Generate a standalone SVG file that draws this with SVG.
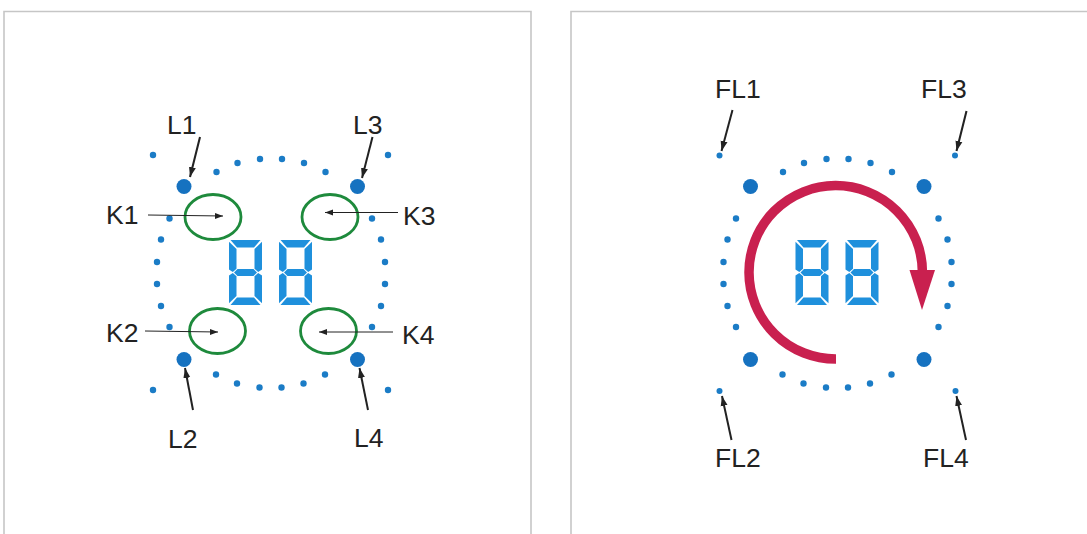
<svg xmlns="http://www.w3.org/2000/svg" xmlns:xlink="http://www.w3.org/1999/xlink" width="1087" height="534" viewBox="0 0 1087 534">
<style>
.frame{fill:none;stroke:#c6c6c6;stroke-width:1.6}
.dot{fill:#1b7cc6}
.big{fill:#1672c0}
.seg{fill:#1f90dc}
.ring{fill:none;stroke:#1e8a3c;stroke-width:2.8}
.lbl{font-family:"Liberation Sans",Arial,sans-serif;font-size:26.5px;fill:#222}
.ptr{stroke:#222;stroke-width:2;fill:none}
.thin{stroke:#222;stroke-width:1;fill:none}
.rot{fill:none;stroke:#c9204f;stroke-width:9.5}
</style>
<defs>
<marker id="ah" markerUnits="userSpaceOnUse" markerWidth="11" markerHeight="8" refX="10" refY="4" orient="auto">
<path d="M0,0.5 L10,4 L0,7.5 z" fill="#222"/>
</marker>
<marker id="sh" markerUnits="userSpaceOnUse" markerWidth="9" markerHeight="7" refX="8" refY="3.5" orient="auto">
<path d="M0,0.5 L8,3.5 L0,6.5 z" fill="#222"/>
</marker>
<g id="digit">
<polygon class="seg" points="1.5,0 31.5,0 25,7.5 8,7.5"/>
<polygon class="seg" points="0,1.8 7.5,9 7.5,28.8 3.8,32 0,29.5"/>
<polygon class="seg" points="33,1.8 25.5,9 25.5,28.8 29.2,32 33,29.5"/>
<polygon class="seg" points="5,32.5 8.5,29 24.5,29 28,32.5 24.5,36 8.5,36"/>
<polygon class="seg" points="0,35.5 3.8,33 7.5,36.3 7.5,56 0,63.2"/>
<polygon class="seg" points="33,35.5 29.2,33 25.5,36.3 25.5,56 33,63.2"/>
<polygon class="seg" points="1.5,65 8,57.5 25,57.5 31.5,65"/>
</g>
<g id="dotring">
<circle class="dot" cx="216.5" cy="172" r="3.2"/>
<circle class="dot" cx="237.5" cy="163" r="3.2"/>
<circle class="dot" cx="260" cy="159" r="3.2"/>
<circle class="dot" cx="282" cy="159" r="3.2"/>
<circle class="dot" cx="304" cy="163" r="3.2"/>
<circle class="dot" cx="325.5" cy="172" r="3.2"/>
<circle class="dot" cx="216" cy="374.5" r="3.2"/>
<circle class="dot" cx="237" cy="383.5" r="3.2"/>
<circle class="dot" cx="259.5" cy="387.5" r="3.2"/>
<circle class="dot" cx="281.5" cy="387.5" r="3.2"/>
<circle class="dot" cx="303.5" cy="383.5" r="3.2"/>
<circle class="dot" cx="325" cy="374.5" r="3.2"/>
<circle class="dot" cx="169.5" cy="218.5" r="3.2"/>
<circle class="dot" cx="161" cy="239.5" r="3.2"/>
<circle class="dot" cx="157" cy="262" r="3.2"/>
<circle class="dot" cx="157" cy="284" r="3.2"/>
<circle class="dot" cx="161" cy="306" r="3.2"/>
<circle class="dot" cx="169.5" cy="327" r="3.2"/>
<circle class="dot" cx="372" cy="218.5" r="3.2"/>
<circle class="dot" cx="381" cy="239.5" r="3.2"/>
<circle class="dot" cx="385" cy="262" r="3.2"/>
<circle class="dot" cx="385" cy="284" r="3.2"/>
<circle class="dot" cx="381" cy="306" r="3.2"/>
<circle class="dot" cx="372" cy="327" r="3.2"/>
</g>
</defs>
<rect width="1087" height="534" fill="#fff"/>
<path class="frame" d="M4,540 V11.5 H531 V540"/>
<path class="frame" d="M571,540 V11.5 H1090"/>

<g id="left-panel">
<g id="left-ring"><use xlink:href="#dotring"/></g>
<g id="left-display"><use xlink:href="#digit" x="229" y="240"/><use xlink:href="#digit" x="279" y="240"/></g>
<g id="corner-dots-left">
<circle class="dot" cx="153" cy="155" r="3.2"/>
<circle class="dot" cx="388" cy="155" r="3.2"/>
<circle class="dot" cx="153" cy="390" r="3.2"/>
<circle class="dot" cx="388" cy="390" r="3.2"/>
</g>
<g id="L1"><circle class="big" cx="184" cy="186.5" r="7.5"/><text class="lbl" x="167" y="134">L1</text></g>
<g id="L3"><circle class="big" cx="357.5" cy="186.5" r="7.5"/><text class="lbl" x="353" y="134">L3</text></g>
<g id="L2"><circle class="big" cx="184" cy="359.5" r="7.5"/><text class="lbl" x="168" y="448">L2</text></g>
<g id="L4"><circle class="big" cx="357.5" cy="359.5" r="7.5"/><text class="lbl" x="354" y="447">L4</text></g>
<g id="K1"><ellipse class="ring" cx="213" cy="217" rx="28" ry="22.5"/><text class="lbl" x="106" y="224">K1</text></g>
<g id="K3"><ellipse class="ring" cx="330" cy="217" rx="28" ry="22.5"/><text class="lbl" x="403" y="225">K3</text></g>
<g id="K2"><ellipse class="ring" cx="217.5" cy="331" rx="28" ry="22.5"/><text class="lbl" x="106" y="342">K2</text></g>
<g id="K4"><ellipse class="ring" cx="328.5" cy="331" rx="28" ry="22.5"/><text class="lbl" x="402" y="344">K4</text></g>
</g>

<g id="right-panel">
<g id="right-ring"><use xlink:href="#dotring" transform="translate(566.5,0)"/></g>
<g id="right-display"><use xlink:href="#digit" x="795.5" y="240"/><use xlink:href="#digit" x="845.5" y="240"/></g>
<g id="B1"><circle class="big" cx="750.5" cy="186.5" r="7.5"/></g>
<g id="B3"><circle class="big" cx="924" cy="186.5" r="7.5"/></g>
<g id="B2"><circle class="big" cx="750.5" cy="359.5" r="7.5"/></g>
<g id="B4"><circle class="big" cx="924" cy="359.5" r="7.5"/></g>
<g id="FL1"><circle class="dot" cx="719.5" cy="155.5" r="3"/><text class="lbl" x="715" y="98">FL1</text></g>
<g id="FL3"><circle class="dot" cx="955" cy="155.5" r="3"/><text class="lbl" x="921" y="98">FL3</text></g>
<g id="FL2"><circle class="dot" cx="719.5" cy="391" r="3"/><text class="lbl" x="715" y="467">FL2</text></g>
<g id="FL4"><circle class="dot" cx="955.5" cy="391" r="3"/><text class="lbl" x="923" y="467">FL4</text></g>
<g id="rotation">
<path class="rot" d="M836,359 A86.7,86.7 0 1 1 922.4,272"/>
<polygon points="909.5,270 935,270 922,310" fill="#c9204f"/>
</g>
</g>

<g id="connectors">
<line class="ptr" x1="200" y1="137" x2="190" y2="177" marker-end="url(#ah)"/>
<line class="ptr" x1="372.5" y1="137" x2="362" y2="178" marker-end="url(#ah)"/>
<line class="ptr" x1="193" y1="410" x2="185" y2="368" marker-end="url(#ah)"/>
<line class="ptr" x1="368" y1="410" x2="359.5" y2="368" marker-end="url(#ah)"/>
<line class="thin" x1="148" y1="215" x2="223" y2="216" marker-end="url(#sh)"/>
<line class="thin" x1="398" y1="212.5" x2="325" y2="212.5" marker-end="url(#sh)"/>
<line class="thin" x1="145" y1="331" x2="218" y2="332" marker-end="url(#sh)"/>
<line class="thin" x1="393" y1="332" x2="319" y2="332" marker-end="url(#sh)"/>
<line class="ptr" x1="732.5" y1="110" x2="721.5" y2="151" marker-end="url(#ah)"/>
<line class="ptr" x1="966.5" y1="111" x2="956.5" y2="151" marker-end="url(#ah)"/>
<line class="ptr" x1="731.5" y1="440" x2="722" y2="396" marker-end="url(#ah)"/>
<line class="ptr" x1="966" y1="440" x2="956.5" y2="396" marker-end="url(#ah)"/>
</g>
</svg>
